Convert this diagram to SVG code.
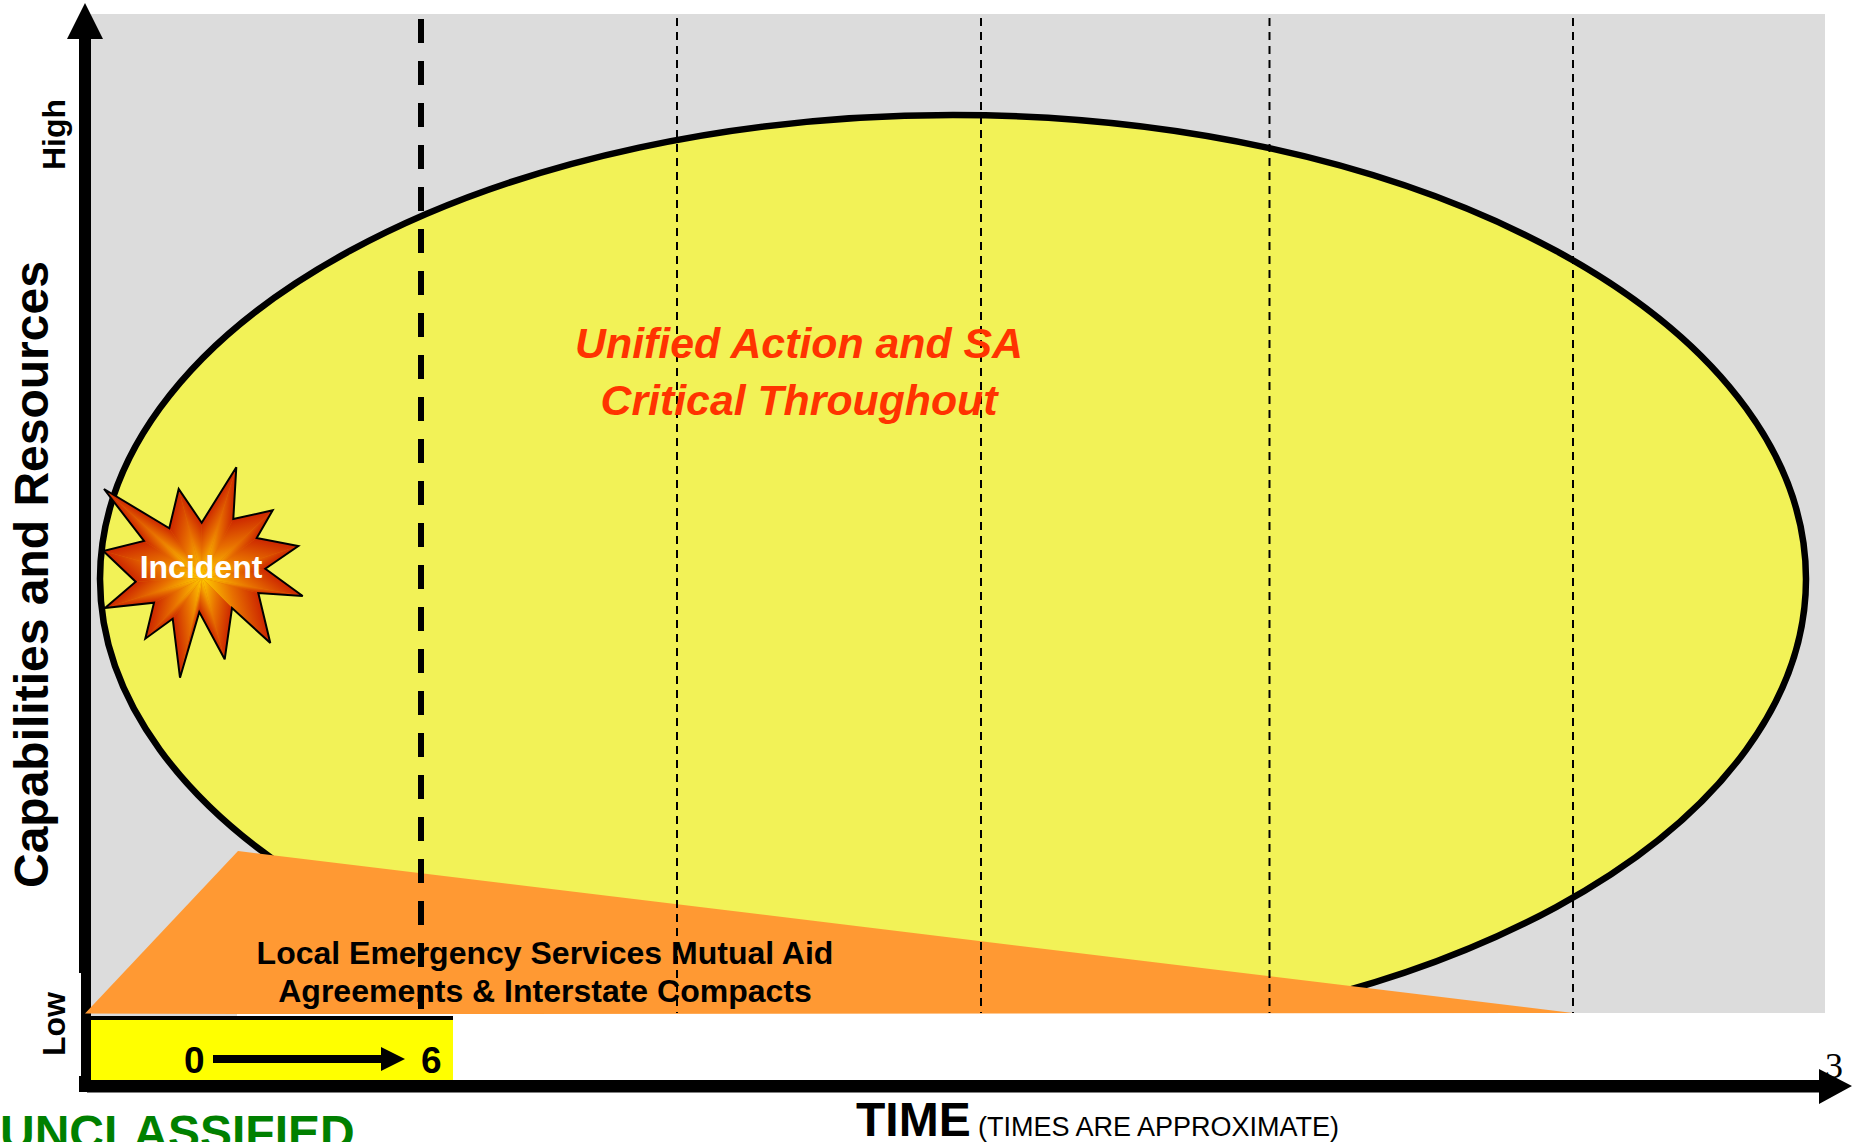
<svg xmlns="http://www.w3.org/2000/svg" width="1852" height="1142" viewBox="0 0 1852 1142">
<style>
text{font-family:"Liberation Sans",Arial,sans-serif}
.b{font-weight:bold}
.thin{stroke:#000;stroke-width:2;stroke-dasharray:8 6;fill:none}
.tri{stroke:none}
.ax{fill:#000}
</style>
<defs>
<linearGradient id="s"><stop offset="0" stop-color="#ffcc00"/><stop offset="0.5" stop-color="#e87000"/><stop offset="1" stop-color="#cc2600"/></linearGradient>
<linearGradient id="e1" href="#s" gradientUnits="userSpaceOnUse" x1="0" y1="0" x2="13.3" y2="-22"/>
<linearGradient id="e2" href="#s" gradientUnits="userSpaceOnUse" x1="0" y1="0" x2="-42.2" y2="-10.1"/>
<linearGradient id="e3" href="#s" gradientUnits="userSpaceOnUse" x1="0" y1="0" x2="25.5" y2="-17.4"/>
<linearGradient id="e4" href="#s" gradientUnits="userSpaceOnUse" x1="0" y1="0" x2="-25.1" y2="-15.7"/>
<linearGradient id="e5" href="#s" gradientUnits="userSpaceOnUse" x1="0" y1="0" x2="27.8" y2="1.6"/>
<linearGradient id="e6" href="#s" gradientUnits="userSpaceOnUse" x1="0" y1="0" x2="-11" y2="-49.7"/>
<linearGradient id="e7" href="#s" gradientUnits="userSpaceOnUse" x1="0" y1="0" x2="23.7" y2="13.7"/>
<linearGradient id="e8" href="#s" gradientUnits="userSpaceOnUse" x1="0" y1="0" x2="9.4" y2="-48.7"/>
<linearGradient id="e9" href="#s" gradientUnits="userSpaceOnUse" x1="0" y1="0" x2="16" y2="23.2"/>
<linearGradient id="e10" href="#s" gradientUnits="userSpaceOnUse" x1="0" y1="0" x2="26.4" y2="-36.2"/>
<linearGradient id="e11" href="#s" gradientUnits="userSpaceOnUse" x1="0" y1="0" x2="-0.8" y2="11.1"/>
<linearGradient id="e12" href="#s" gradientUnits="userSpaceOnUse" x1="0" y1="0" x2="49.8" y2="-12"/>
<linearGradient id="e13" href="#s" gradientUnits="userSpaceOnUse" x1="0" y1="0" x2="-1.3" y2="1.4"/>
<linearGradient id="e14" href="#s" gradientUnits="userSpaceOnUse" x1="0" y1="0" x2="33.6" y2="4.8"/>
<linearGradient id="e15" href="#s" gradientUnits="userSpaceOnUse" x1="0" y1="0" x2="-16.3" y2="8.7"/>
<linearGradient id="e16" href="#s" gradientUnits="userSpaceOnUse" x1="0" y1="0" x2="6.7" y2="2"/>
<linearGradient id="e17" href="#s" gradientUnits="userSpaceOnUse" x1="0" y1="0" x2="-33.8" y2="4.2"/>
<linearGradient id="e18" href="#s" gradientUnits="userSpaceOnUse" x1="0" y1="0" x2="9.2" y2="12.6"/>
<linearGradient id="e19" href="#s" gradientUnits="userSpaceOnUse" x1="0" y1="0" x2="-39.7" y2="-9.6"/>
<linearGradient id="e20" href="#s" gradientUnits="userSpaceOnUse" x1="0" y1="0" x2="2.1" y2="19.3"/>
<linearGradient id="e21" href="#s" gradientUnits="userSpaceOnUse" x1="0" y1="0" x2="-26.2" y2="-30.6"/>
<linearGradient id="e22" href="#s" gradientUnits="userSpaceOnUse" x1="0" y1="0" x2="-33.2" y2="35.1"/>
<linearGradient id="e23" href="#s" gradientUnits="userSpaceOnUse" x1="0" y1="0" x2="-11.9" y2="-48.3"/>
<linearGradient id="e24" href="#s" gradientUnits="userSpaceOnUse" x1="0" y1="0" x2="-18.6" y2="14.3"/>
</defs>
<rect width="1852" height="1142" fill="#fff"/>
<rect id="background" x="91" y="14" width="1734" height="999" fill="#dcdcdc"/>
<g id="ellipse-node"><ellipse cx="953" cy="579" rx="853" ry="464" fill="#f2f257" stroke="#000" stroke-width="6.500"/></g>
<rect x="91" y="1013" width="1761" height="67" fill="#fff"/>
<rect x="91" y="1013" width="146" height="3" fill="#dcdcdc"/>
<text x="1825" y="1078" font-size="36" style="font-family:'Liberation Serif',serif">3</text>
<g id="axes">
<rect x="87" y="1091" width="1740" height="2" fill="#808080"/>
<path class="ax" d="M79 973V39H67L85 3L103 39H91V1080H1819V1069L1852 1086L1819 1104V1092H79V1076H81V973Z"/>
</g>
<g id="orange-node">
<polygon points="85,1013.500 238,851 1573,1013 453,1014 237,1014" fill="#ff9933"/>
</g>
<g id="period-node">
<rect x="91" y="1020" width="362" height="60" fill="#ffff00"/>
<rect x="91" y="1016" width="362" height="4" fill="#000"/>
<text class="b" x="184" y="1073" font-size="37">0</text>
<text class="b" x="421" y="1073" font-size="37">6</text>
</g>
<g id="connectors">
<line class="thin" x1="677" y1="18" x2="677" y2="1013"/>
<line class="thin" x1="981" y1="18" x2="981" y2="1013"/>
<line class="thin" x1="1269.500" y1="18" x2="1269.500" y2="1013"/>
<line class="thin" x1="1573" y1="18" x2="1573" y2="1013"/>
<line x1="421" y1="19" x2="421" y2="1012" stroke="#000" stroke-width="6" stroke-dasharray="24 18"/>
<path class="ax" d="M213 1055H381V1047L405 1059L381 1071V1063H213Z"/>
</g>
<g id="incident-node">
<g transform="translate(202 578)">
<polygon fill="#e07000" points="-98,-89 -32.700,-49.700 -23.300,-89 -0.300,-55.300 34.300,-110.700 31.300,-59 70.700,-67.700 54.700,-40 96.300,-32 63.300,-9.300 100.700,18 56.300,15 68.300,65 30,30 22.700,81.300 -2.700,34 -22,99.700 -29.300,40.700 -56.700,60.700 -48,24.700 -97,30 -66.300,3.700 -98.700,-27 -58,-37"/>
<path class="tri" fill="url(#e1)" d="M0 0L-98 -89L-32.700 -49.700Z"/>
<path class="tri" fill="url(#e2)" d="M0 0L-32.700 -49.700L-23.300 -89Z"/>
<path class="tri" fill="url(#e3)" d="M0 0L-23.300 -89L-0.300 -55.300Z"/>
<path class="tri" fill="url(#e4)" d="M0 0L-0.300 -55.300L34.300 -110.700Z"/>
<path class="tri" fill="url(#e5)" d="M0 0L34.300 -110.700L31.300 -59Z"/>
<path class="tri" fill="url(#e6)" d="M0 0L31.300 -59L70.700 -67.700Z"/>
<path class="tri" fill="url(#e7)" d="M0 0L70.700 -67.700L54.700 -40Z"/>
<path class="tri" fill="url(#e8)" d="M0 0L54.700 -40L96.300 -32Z"/>
<path class="tri" fill="url(#e9)" d="M0 0L96.300 -32L63.300 -9.300Z"/>
<path class="tri" fill="url(#e10)" d="M0 0L63.300 -9.300L100.700 18Z"/>
<path class="tri" fill="url(#e11)" d="M0 0L100.700 18L56.300 15Z"/>
<path class="tri" fill="url(#e12)" d="M0 0L56.300 15L68.300 65Z"/>
<path class="tri" fill="url(#e13)" d="M0 0L68.300 65L30 30Z"/>
<path class="tri" fill="url(#e14)" d="M0 0L30 30L22.700 81.300Z"/>
<path class="tri" fill="url(#e15)" d="M0 0L22.700 81.300L-2.700 34Z"/>
<path class="tri" fill="url(#e16)" d="M0 0L-2.700 34L-22 99.700Z"/>
<path class="tri" fill="url(#e17)" d="M0 0L-22 99.700L-29.300 40.700Z"/>
<path class="tri" fill="url(#e18)" d="M0 0L-29.300 40.700L-56.700 60.700Z"/>
<path class="tri" fill="url(#e19)" d="M0 0L-56.700 60.700L-48 24.700Z"/>
<path class="tri" fill="url(#e20)" d="M0 0L-48 24.700L-97 30Z"/>
<path class="tri" fill="url(#e21)" d="M0 0L-97 30L-66.300 3.700Z"/>
<path class="tri" fill="url(#e22)" d="M0 0L-66.300 3.700L-98.700 -27Z"/>
<path class="tri" fill="url(#e23)" d="M0 0L-98.700 -27L-58 -37Z"/>
<path class="tri" fill="url(#e24)" d="M0 0L-58 -37L-98 -89Z"/>
<polygon fill="none" stroke="#000" stroke-width="2" stroke-linejoin="miter" stroke-miterlimit="3" points="-98,-89 -32.700,-49.700 -23.300,-89 -0.300,-55.300 34.300,-110.700 31.300,-59 70.700,-67.700 54.700,-40 96.300,-32 63.300,-9.300 100.700,18 56.300,15 68.300,65 30,30 22.700,81.300 -2.700,34 -22,99.700 -29.300,40.700 -56.700,60.700 -48,24.700 -97,30 -66.300,3.700 -98.700,-27 -58,-37"/>
</g>
<text class="b" x="201" y="578" font-size="32" fill="#fff" text-anchor="middle">Incident</text>
</g>
<g id="labels">
<text class="b" x="799" y="358" font-size="42.800" font-style="italic" fill="#ff3300" text-anchor="middle">Unified Action and SA</text>
<text class="b" x="799" y="415" font-size="42.800" font-style="italic" fill="#ff3300" text-anchor="middle">Critical Throughout</text>
<text class="b" x="545" y="964" font-size="32" text-anchor="middle">Local Emergency Services Mutual Aid</text>
<text class="b" x="545" y="1002" font-size="32" text-anchor="middle">Agreements &amp; Interstate Compacts</text>
<text class="b" transform="translate(48 888) rotate(-90)" font-size="48">Capabilities and Resources</text>
<text class="b" transform="translate(65 170) rotate(-90)" font-size="32">High</text>
<text class="b" transform="translate(64.500 1056) rotate(-90)" font-size="32">Low</text>
<text class="b" x="0" y="1149" font-size="48" fill="#008000">UNCLASSIFIED</text>
<text class="b" x="856" y="1136" font-size="48">TIME</text>
<text x="978" y="1136" font-size="27">(TIMES ARE APPROXIMATE)</text>
</g>
</svg>
